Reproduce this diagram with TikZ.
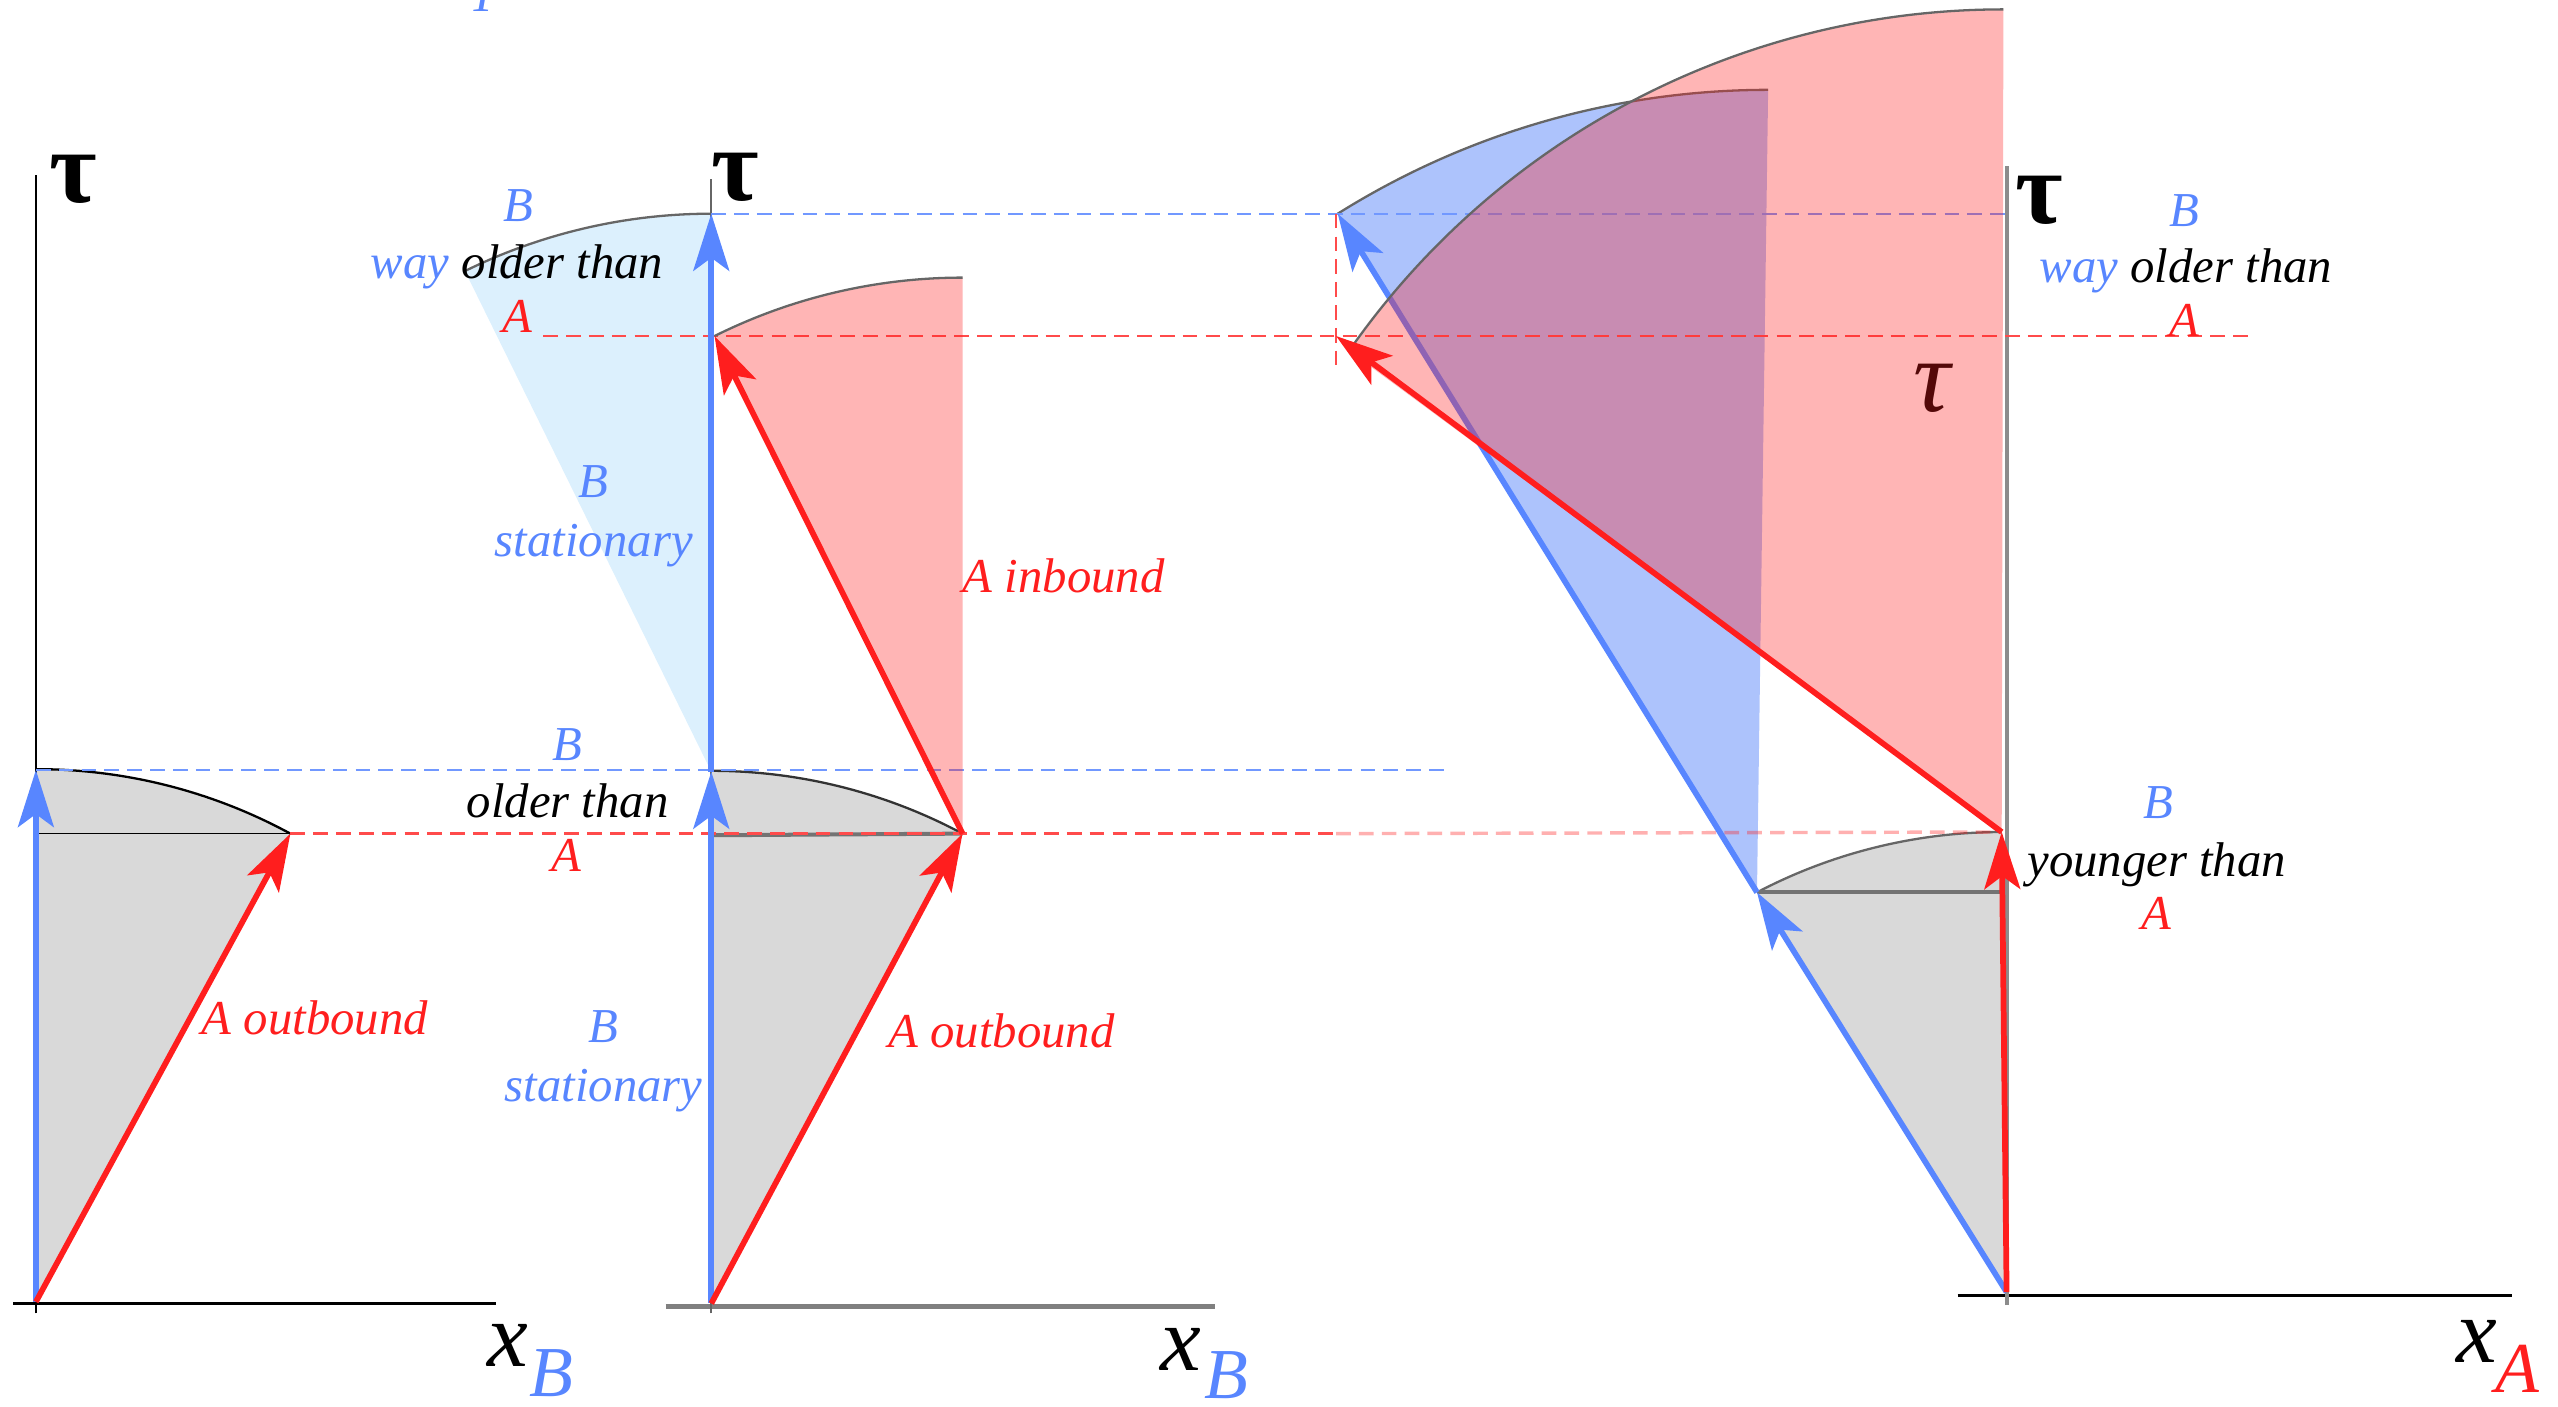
\documentclass[tikz,border=0pt]{standalone}
\usepackage{fontspec}
\setmainfont{Liberation Serif}
\usetikzlibrary{arrows.meta}
\definecolor{bblue}{RGB}{88,134,255}
\definecolor{rred}{RGB}{255,30,30}
\definecolor{skyfill}{RGB}{220,240,253}
\definecolor{grayfill}{RGB}{217,217,217}
\definecolor{bluefill}{RGB}{173,195,252}
\tikzset{
  wl/.style={line width=1pt,-{Stealth[length=3.5mm,width=2.2mm,inset=0.8mm]}},
  bwl/.style={wl,bblue}, rwl/.style={wl,rred},
  axis/.style={line width=0.3pt},
  bdash/.style={bblue!85,line width=0.4pt,dash pattern=on 0.9mm off 0.5mm},
  rdash/.style={rred!80,line width=0.4pt,dash pattern=on 0.9mm off 0.5mm},
  rim/.style={draw=black!60,line width=0.4pt},
  pinkfill/.style={fill=rred,fill opacity=0.33},
  lbl/.style={font=\fontsize{8.5}{10}\selectfont\itshape,inner sep=0pt,anchor=base},
  taulab/.style={font=\fontsize{18}{20}\selectfont\bfseries,inner sep=0pt},
  xlab/.style={font=\fontsize{16}{18}\selectfont\itshape,inner sep=0pt},
  sublab/.style={font=\fontsize{12.5}{14}\selectfont\itshape,inner sep=0pt}
}
\begin{document}
\begin{tikzpicture}[x=0.1mm,y=0.1mm]
  \useasboundingbox (0,0) rectangle (1568,862);
  \coordinate (O1) at (22,64); \coordinate (T1) at (22,390); \coordinate (R1) at (178,351); \coordinate (H1) at (22,351);
  \coordinate (O2) at (436,63); \coordinate (T2) at (436,389); \coordinate (U2) at (436,731); \coordinate (R2) at (590,351); \coordinate (I2) at (438,656); \coordinate (H2) at (436,350);
  \coordinate (O3) at (1230,70); \coordinate (A3) at (1227,352); \coordinate (P3) at (1077,315); \coordinate (Q3) at (820,731); \coordinate (S3) at (819,656); \coordinate (H3) at (1230,315);
  \coordinate (S3e) at (827,647);
  % regions
  \fill[grayfill] (O1) -- (R1) arc[start angle=61.5,end angle=90,radius=326] -- cycle;
  \fill[grayfill] (O2) -- (R2) arc[start angle=61.9,end angle=90,radius=326.6] -- cycle;
  \fill[skyfill] (T2) -- (U2) arc[start angle=90,end angle=116.2,radius=342] -- cycle;
  \fill[grayfill] (O3) -- (P3) arc[start angle=117.7,end angle=90,radius=322.6] -- cycle;
  \fill[bluefill] (P3) -- (Q3) arc[start angle=122.1,end angle=90,radius=496.5] -- cycle;
  \draw[rim,black] (R1) arc[start angle=61.5,end angle=90,radius=326]; \draw[axis] (H1) -- (R1);
  \draw[rim,black!80] (R2) arc[start angle=61.9,end angle=90,radius=326.6]; \draw[black!55,line width=0.7pt] (H2) -- (R2);
  \draw[rim] (U2) arc[start angle=90,end angle=116.2,radius=342];
  \draw[rim] (P3) arc[start angle=117.7,end angle=90,radius=322.6]; \draw[black!55,line width=0.7pt] (P3) -- (H3);
  \draw[rim] (Q3) arc[start angle=122.1,end angle=90,radius=496.5];
  % axes
  \draw[axis,line width=0.5pt] (8,63) -- (304,63); \draw[axis] (22,57) -- (22,755);
  \draw[black!50,line width=0.8pt] (408,61) -- (745,61); \draw[axis,black!60] (436,57) -- (436,752);
  \draw[axis,line width=0.5pt] (1200,68) -- (1540,68); \draw[black!45,line width=0.7pt] (1230,62) -- (1230,760);
  % dashed levels
  \draw[bdash] (T1) -- (886,390); \draw[rdash] (R1) -- (819,351);
  \draw[bdash] (U2) -- (1230,731); \draw[rdash] (333,656) -- (1380,656);
  \draw[rred,line width=0.6pt,opacity=0.35,dash pattern=on 0.9mm off 0.5mm] (819,351) -- (A3);
  \draw[rdash] (819,731) -- (819,638);
  % worldlines of B
  \draw[bwl] (O1) -- (T1); \draw[bwl] (O2) -- (T2); \draw[bwl] (T2) -- (U2);
  \draw[bwl] (O3) -- (P3); \draw[bwl] (P3) -- (Q3);
  \node[font=\fontsize{18}{20}\selectfont\itshape,inner sep=0pt] (tau4) at (1184,624) {τ};
  \fill[pinkfill] (R2) -- (I2) arc[start angle=116.5,end angle=90,radius=340.8] -- cycle;
  \fill[pinkfill] (A3) -- (S3e) arc[start angle=145.1,end angle=90,radius=489] -- cycle;
  \draw[rim] (I2) arc[start angle=116.5,end angle=90,radius=340.8];
  \draw[rim] (S3e) arc[start angle=145.1,end angle=90,radius=489];
  % worldlines of A
  \draw[rwl] (O1) -- (R1); \draw[rwl] (O2) -- (R2); \draw[rwl] (R2) -- (I2);
  \draw[rwl] (O3) -- (A3); \draw[rwl] (A3) -- (S3);
  % axis labels
  \node[taulab] (tau1) at (45,752) {τ}; \node[xlab] (x1) at (311,37) {x}; \node[sublab,bblue] (sb1) at (338,20) {B};
  \node[taulab] (tau2) at (451,753) {τ}; \node[xlab] (x2) at (724,35) {x}; \node[sublab,bblue] (sb2) at (752,19) {B};
  \node[taulab] (tau3) at (1250,739) {τ}; \node[xlab] (x3) at (1518,40) {x}; \node[sublab,rred] (sa3) at (1543,23) {A};
  % texts
  \node[lbl,bblue] (top) at (296,855) {T};
  \node[lbl,bblue] (b1) at (348,396) {B}; \node[lbl] (old1) at (348,361) {older than}; \node[lbl,rred] (a1) at (347,328) {A};
  \node[lbl,rred] (out1) at (193,228) {A outbound};
  \node[lbl,bblue] (b2) at (318,726) {B}; \node[lbl] (old2) at (317,691) {\textcolor{bblue}{way} older than}; \node[lbl,rred] (a2) at (317,658) {A};
  \node[lbl,bblue] (st1) at (364,557) {B}; \node[lbl,bblue] (st2) at (364,521) {stationary};
  \node[lbl,rred] (in2) at (652,499) {A inbound};
  \node[lbl,bblue] (st3) at (370,223) {B}; \node[lbl,bblue] (st4) at (370,187) {stationary};
  \node[lbl,rred] (out2) at (614,220) {A outbound};
  \node[lbl,bblue] (b3) at (1339,723) {B}; \node[lbl] (old3) at (1340,689) {\textcolor{bblue}{way} older than}; \node[lbl,rred] (a3) at (1339,656) {A};
  \node[lbl,bblue] (b4) at (1323,360) {B}; \node[lbl] (yng) at (1322,325) {younger than}; \node[lbl,rred] (a4) at (1322,292) {A};
\end{tikzpicture}
\end{document}
